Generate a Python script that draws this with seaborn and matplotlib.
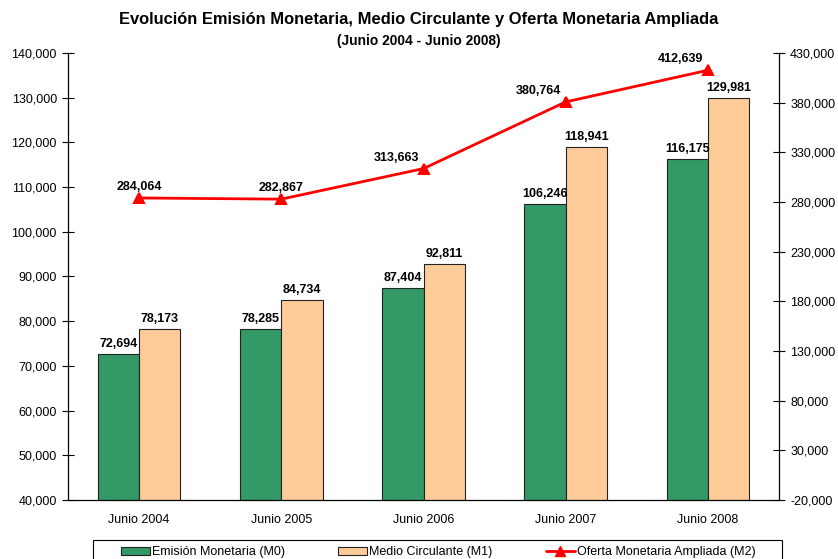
import numpy as np
import pandas as pd
import matplotlib
matplotlib.use('Agg')
import matplotlib.pyplot as plt
import seaborn as sns
from matplotlib.patches import Patch, Rectangle
from matplotlib.lines import Line2D

# --- data ---
YEARS = ['Junio 2004', 'Junio 2005', 'Junio 2006', 'Junio 2007', 'Junio 2008']
M0 = [72694, 78285, 87404, 106246, 116175]
M1 = [78173, 84734, 92811, 118941, 129981]
M2 = [284064, 282867, 313663, 380764, 412639]
SERIES = ['Emisión Monetaria (M0)', 'Medio Circulante (M1)', 'Oferta Monetaria Ampliada (M2)']
COLORS = {'Emisión Monetaria (M0)': '#339966', 'Medio Circulante (M1)': '#FFCC99'}
LEFT_TICKS = list(range(40000, 140001, 10000))
RIGHT_TICKS = list(range(-20000, 430001, 50000))


def build_df():
    df = pd.DataFrame({
        'Year': YEARS * 2,
        'Serie': [SERIES[0]] * len(YEARS) + [SERIES[1]] * len(YEARS),
        'Valor': M0 + M1,
    })
    return df


def main():
    sns.set_style('white')
    plt.rcParams['font.family'] = ['Liberation Sans', 'DejaVu Sans']
    for k in ('text.color', 'axes.labelcolor', 'xtick.color', 'ytick.color'):
        plt.rcParams[k] = 'black'

    df = build_df()
    fig = plt.figure(figsize=(8.38, 5.59), dpi=100)
    ax = fig.add_axes([68 / 838, 59 / 559, 711 / 838, 447 / 559])

    sns.barplot(data=df, x='Year', y='Valor', hue='Serie', palette=COLORS,
                width=0.58, edgecolor='#222222', linewidth=0.8,
                saturation=1, legend=False, ax=ax)
    for cont in ax.containers:
        ax.bar_label(cont, labels=[f'{v:,.0f}' for v in cont.datavalues],
                     padding=3, fontsize=9, fontweight='bold')

    ax2 = ax.twinx()
    sns.pointplot(x=YEARS, y=M2, ax=ax2, color='red', markers='^',
                  linewidth=2, markersize=6.5)
    lbl_dx = [0, 0, -19.5, -19.5, -19.5]
    for i, v in enumerate(M2):
        ax2.annotate(f'{v:,.0f}', (i, v), xytext=(lbl_dx[i], 3.5),
                     textcoords='offset points', ha='center', va='bottom',
                     fontsize=9, fontweight='bold')

    ax.set_ylim(40000, 140000)
    ax.set_yticks(LEFT_TICKS)
    ax.set_yticklabels([f'{t:,}' for t in LEFT_TICKS], fontsize=9)
    ax2.set_ylim(-20000, 430000)
    ax2.set_yticks(RIGHT_TICKS)
    ax2.set_yticklabels([f'{t:,}' for t in RIGHT_TICKS], fontsize=9)

    ax.set_xlim(-0.5, len(YEARS) - 0.5)
    ax.set_xticks(np.arange(len(YEARS) + 1) - 0.5)
    ax.set_xticklabels([])
    ax.set_xticks(np.arange(len(YEARS)), minor=True)
    ax.set_xticklabels(YEARS, minor=True, fontsize=9)
    ax.tick_params(axis='x', which='major', direction='out', length=5, width=0.8)
    ax.tick_params(axis='x', which='minor', length=0, pad=10)
    ax.tick_params(axis='y', direction='inout', length=8, width=0.8, pad=4, left=True)
    ax2.tick_params(axis='y', direction='inout', length=8, width=0.8, pad=4, right=True)
    ax.set_xlabel('')
    ax.set_ylabel('')
    ax2.set_xlabel('')
    ax2.set_ylabel('')

    for a in (ax, ax2):
        for s in a.spines.values():
            s.set_visible(False)
    ax.spines['left'].set_visible(True)
    ax.spines['bottom'].set_visible(True)
    ax2.spines['right'].set_visible(True)
    for s in ('left', 'bottom'):
        ax.spines[s].set_color('black')
        ax.spines[s].set_linewidth(0.9)
    ax2.spines['right'].set_color('black')
    ax2.spines['right'].set_linewidth(0.9)

    fig.text(0.5, 0.966, 'Evolución Emisión Monetaria, Medio Circulante y Oferta Monetaria Ampliada',
             ha='center', va='center', fontsize=11.9, fontweight='bold')
    fig.text(0.5, 0.927, '(Junio 2004 - Junio 2008)',
             ha='center', va='center', fontsize=9.9, fontweight='bold')

    # legend frame (cut off by the bottom edge, as in the source)
    fig.patches.append(Rectangle((93 / 838, -0.02), 689 / 838, 19 / 559 + 0.02,
                                 transform=fig.transFigure, facecolor='white',
                                 edgecolor='black', linewidth=0.8, zorder=0))
    handles = [
        Patch(facecolor=COLORS[SERIES[0]], edgecolor='#222222', linewidth=0.8),
        Patch(facecolor=COLORS[SERIES[1]], edgecolor='#222222', linewidth=0.8),
        Line2D([0], [0], color='red', lw=2, marker='^', markersize=6.5),
    ]
    fig.legend(handles, SERIES, loc='upper left', ncol=3,
               bbox_to_anchor=(121 / 838, 13 / 559),
               fontsize=9, frameon=False, handlelength=2.3, handleheight=0.6,
               handletextpad=0.15, columnspacing=4.3, borderpad=0, borderaxespad=0)

    fig.savefig('out.png', dpi=100)
    plt.close()


if __name__ == '__main__':
    main()
